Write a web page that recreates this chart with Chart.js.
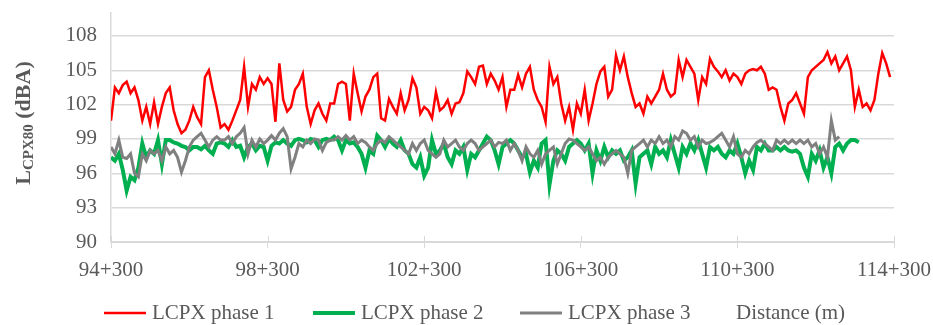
<!DOCTYPE html>
<html>
<head>
<meta charset="utf-8">
<script src="https://cdn.jsdelivr.net/npm/chart.js"></script>
<style>
  body { margin: 0; background: #fff; }
</style>
</head>
<body>
<canvas id="myChart" width="933" height="325"></canvas>
<script>
// distance is sampled every 100 m starting at 94+300
const startKm = 94.3;
const stepKm = 0.1;

const seriesNames = ["LCPX phase 1", "LCPX phase 2", "LCPX phase 3"];
const seriesColors = ["#ff0000", "#00b050", "#808080"];

const phase1 = [
  100.6,103.5,103.0,103.7,104.0,103.0,103.5,102.4,100.6,101.8,100.3,102.2,100.3,101.8,103.0,103.5,101.5,100.3,99.5,99.8,100.6,101.8,100.9,100.3,104.4,105.0,103.3,101.8,100.0,
  100.3,99.8,100.6,101.5,102.4,105.3,101.8,103.8,103.3,104.4,103.8,104.3,103.8,100.5,105.6,102.4,101.4,101.8,103.3,103.8,104.7,101.8,100.3,101.5,102.1,101.2,100.6,102.1,
  102.1,103.8,104.0,103.8,100.6,104.7,103.0,101.4,102.7,103.3,104.4,104.7,100.8,100.6,102.5,101.8,101.2,103.0,101.5,102.4,104.3,103.5,101.2,101.8,101.5,100.8,103.1,101.5,
  101.8,102.4,101.2,102.1,102.2,103.0,104.9,104.4,103.8,105.3,105.4,103.8,104.7,104.1,103.3,104.4,101.8,103.3,103.3,104.6,103.5,104.7,105.3,103.3,102.4,101.8,100.5,105.3,
  103.8,104.4,102.1,100.6,101.8,99.8,102.1,101.2,103.3,100.6,102.1,103.8,104.9,105.3,102.7,103.3,106.3,105.0,106.2,104.4,103.0,101.8,102.1,101.2,102.7,102.1,102.7,103.3,
  104.7,103.3,102.7,103.0,105.9,104.4,105.9,105.3,104.7,102.4,104.4,103.8,106.0,105.3,104.9,104.4,105.0,104.1,104.7,104.4,103.8,104.7,105.0,105.1,105.0,105.3,104.7,103.3,
  103.5,103.3,101.8,100.6,102.1,102.4,103.0,102.1,101.2,104.4,105.0,105.3,105.6,105.9,106.6,105.6,106.2,105.0,105.6,106.2,105.0,101.8,103.3,101.8,102.1,101.5,102.4,104.7,106.5,105.6,104.4
];

const phase2 = [
  97.4,97.1,97.7,96.3,94.5,95.7,95.4,96.5,98.6,97.4,98.0,97.7,98.9,96.8,98.9,98.9,98.7,98.6,98.4,98.3,98.0,98.3,98.3,98.1,98.4,98.0,97.7,98.6,98.7,
  98.6,98.3,98.9,98.3,98.4,97.4,98.3,98.6,98.0,98.4,98.3,97.1,98.4,98.7,98.6,98.9,98.6,98.4,98.9,99.0,98.9,98.7,99.0,98.9,98.3,98.9,99.0,98.9,
  99.2,98.9,98.0,98.9,98.6,98.7,98.3,97.7,96.5,98.0,97.7,99.3,98.9,98.3,99.0,98.6,98.3,98.9,98.0,97.7,96.8,96.5,97.4,95.8,96.5,98.9,97.7,98.0,
  98.6,97.4,96.8,98.0,97.7,98.3,96.3,97.7,97.4,98.0,98.6,99.2,98.9,98.0,96.8,98.3,98.6,98.9,98.6,98.0,97.4,97.7,96.1,97.1,96.5,98.6,98.9,95.0,
  97.1,98.0,97.7,97.1,98.3,98.6,98.9,98.6,98.0,98.6,96.0,98.0,97.1,98.3,97.4,98.0,97.7,98.0,97.1,97.4,98.0,95.1,97.4,97.7,98.0,96.8,98.3,97.7,
  98.0,97.4,98.9,97.7,96.5,98.3,97.7,98.6,98.0,98.9,97.7,96.5,98.3,98.0,98.3,97.7,97.4,98.0,97.7,98.6,97.4,96.0,97.1,96.3,98.3,98.0,98.6,98.0,
  98.0,98.3,98.0,98.3,98.0,97.9,98.0,97.7,96.5,95.7,97.7,97.1,98.0,96.5,97.4,96.0,98.3,98.6,98.0,98.6,98.9,98.9,98.7
];

const phase3 = [
  98.3,97.7,98.9,97.4,97.3,97.7,96.0,95.7,97.7,97.1,98.0,97.7,98.0,97.1,98.3,97.7,98.0,97.4,96.1,97.1,98.3,98.9,99.2,99.5,98.9,98.3,98.9,99.2,98.9,
  98.9,99.2,98.6,99.2,99.5,100.0,97.7,98.9,98.3,99.0,98.6,98.9,99.3,98.9,99.5,99.9,99.2,96.4,97.4,98.6,98.3,98.9,98.6,99.0,98.9,98.0,98.7,98.9,
  98.9,99.2,98.9,99.3,98.9,99.2,98.6,98.9,98.7,98.3,98.0,98.6,98.9,98.7,99.2,98.9,98.6,98.3,98.0,97.7,98.6,98.0,98.6,98.9,98.0,97.7,97.4,97.7,
  98.9,98.3,98.6,98.9,98.3,98.0,98.6,98.9,98.6,98.0,98.3,98.6,98.9,98.3,98.7,98.6,98.9,98.0,98.6,98.0,97.1,98.3,97.7,97.4,98.0,96.8,97.7,98.0,
  98.3,96.8,97.7,98.6,99.0,98.9,98.6,98.3,98.0,98.3,97.7,97.1,97.4,96.8,97.4,97.7,98.0,97.7,97.4,96.0,98.0,98.3,98.6,98.9,98.3,98.9,98.6,99.2,
  98.6,98.9,98.3,99.2,98.9,99.7,99.5,98.9,99.2,98.3,98.9,98.6,98.7,98.9,99.2,99.5,98.9,98.3,99.2,97.7,97.4,98.0,97.7,98.3,98.7,98.9,98.6,98.3,
  98.0,98.9,98.6,98.9,98.6,98.9,98.6,98.9,98.6,98.9,98.3,98.6,97.7,98.3,97.4,100.6,98.9,99.2
];

const xTickValues = [94.3, 98.3, 102.3, 106.3, 110.3, 114.3];
const xTickLabels = ["94+300", "98+300", "102+300", "106+300", "110+300", "114+300"];
const yTickValues = [90, 93, 96, 99, 102, 105, 108];

const textColor = "#595959";
const gridColor = "#d9d9d9";
const fontFamily = "'Liberation Serif', 'Times New Roman', serif";

// legend row positions
const legendLineX = [104, 313, 520];
const legendTitleX = 736;

function toPoints(values) {
  return values.map(function(v, i) {
    return { x: Math.round((startKm + i * stepKm) * 10) / 10, y: v };
  });
}

// y title with subscript, tick marks across the axis, legend row
const extras = {
  id: "extras",
  afterDraw: function(chart) {
    const ctx = chart.ctx;
    const xs = chart.scales.x;
    const bottom = chart.chartArea.bottom;

    ctx.save();
    ctx.strokeStyle = gridColor;
    ctx.lineWidth = 1;
    xTickValues.forEach(function(v) {
      const px = Math.round(xs.getPixelForValue(v)) + 0.5;
      ctx.beginPath();
      ctx.moveTo(px, bottom - 6);
      ctx.lineTo(px, bottom);
      ctx.stroke();
    });
    ctx.restore();

    // axis title
    ctx.save();
    ctx.fillStyle = textColor;
    ctx.textBaseline = "alphabetic";
    const big = "bold 22px " + fontFamily;
    const small = "bold 15px " + fontFamily;
    ctx.font = big;
    const wL = ctx.measureText("L").width;
    const wRest = ctx.measureText(" (dBA)").width;
    ctx.font = small;
    const wSub = ctx.measureText("CPX80").width;
    const total = wL + wSub + wRest;
    ctx.translate(30, 123);
    ctx.rotate(-Math.PI / 2);
    let cx = -total / 2;
    ctx.font = big;
    ctx.fillText("L", cx, 0);
    cx += wL;
    ctx.font = small;
    ctx.fillText("CPX80", cx, 3);
    cx += wSub;
    ctx.font = big;
    ctx.fillText(" (dBA)", cx, 0);
    ctx.restore();

    // legend
    ctx.save();
    ctx.font = "21px " + fontFamily;
    ctx.textBaseline = "middle";
    ctx.fillStyle = textColor;
    const ly = 313;
    chart.data.datasets.forEach(function(ds, i) {
      const lx = legendLineX[i];
      ctx.strokeStyle = ds.borderColor;
      ctx.lineWidth = ds.borderWidth;
      ctx.beginPath();
      ctx.moveTo(lx, ly);
      ctx.lineTo(lx + 42, ly);
      ctx.stroke();
      ctx.fillText(ds.label, lx + 48, ly);
    });
    ctx.fillText("Distance (m)", legendTitleX, ly);
    ctx.restore();
  }
};

new Chart("myChart", {
  type: "line",
  data: {
    datasets: [
      { label: seriesNames[0], data: toPoints(phase1), borderColor: seriesColors[0], borderWidth: 2.5, order: 2 },
      { label: seriesNames[1], data: toPoints(phase2), borderColor: seriesColors[1], borderWidth: 4, order: 1 },
      { label: seriesNames[2], data: toPoints(phase3), borderColor: seriesColors[2], borderWidth: 3, order: 0 }
    ]
  },
  options: {
    responsive: false,
    animation: false,
    elements: { point: { radius: 0 }, line: { tension: 0 } },
    layout: { padding: { top: 13, right: 39, left: 0, bottom: 0 } },
    plugins: {
      legend: { display: false },
      tooltip: { enabled: false }
    },
    scales: {
      x: {
        type: "linear",
        min: 94.3,
        max: 114.3,
        afterBuildTicks: function(s) { s.ticks = xTickValues.map(function(v) { return { value: v }; }); },
        afterFit: function(s) {
          s.height = 83;
          s.paddingLeft = 0;
          s.paddingRight = 0;
        },
        grid: { drawOnChartArea: false, drawTicks: true, tickLength: 6, color: gridColor },
        border: { color: gridColor, width: 1 },
        ticks: {
          autoSkip: false,
          maxRotation: 0,
          padding: 10,
          color: textColor,
          font: { family: fontFamily, size: 21 },
          callback: function(v, i) { return xTickLabels[i]; }
        }
      },
      y: {
        min: 90,
        max: 110,
        afterBuildTicks: function(s) { s.ticks = yTickValues.map(function(v) { return { value: v }; }); },
        afterFit: function(s) {
          s.width = 111;
          s.paddingTop = 0;
          s.paddingBottom = 0;
        },
        grid: { drawTicks: false, color: gridColor, lineWidth: 1.5 },
        border: { color: gridColor, width: 1.5 },
        ticks: {
          padding: 14,
          color: textColor,
          font: { family: fontFamily, size: 21 }
        }
      }
    }
  },
  plugins: [extras]
});
</script>
</body>
</html>
